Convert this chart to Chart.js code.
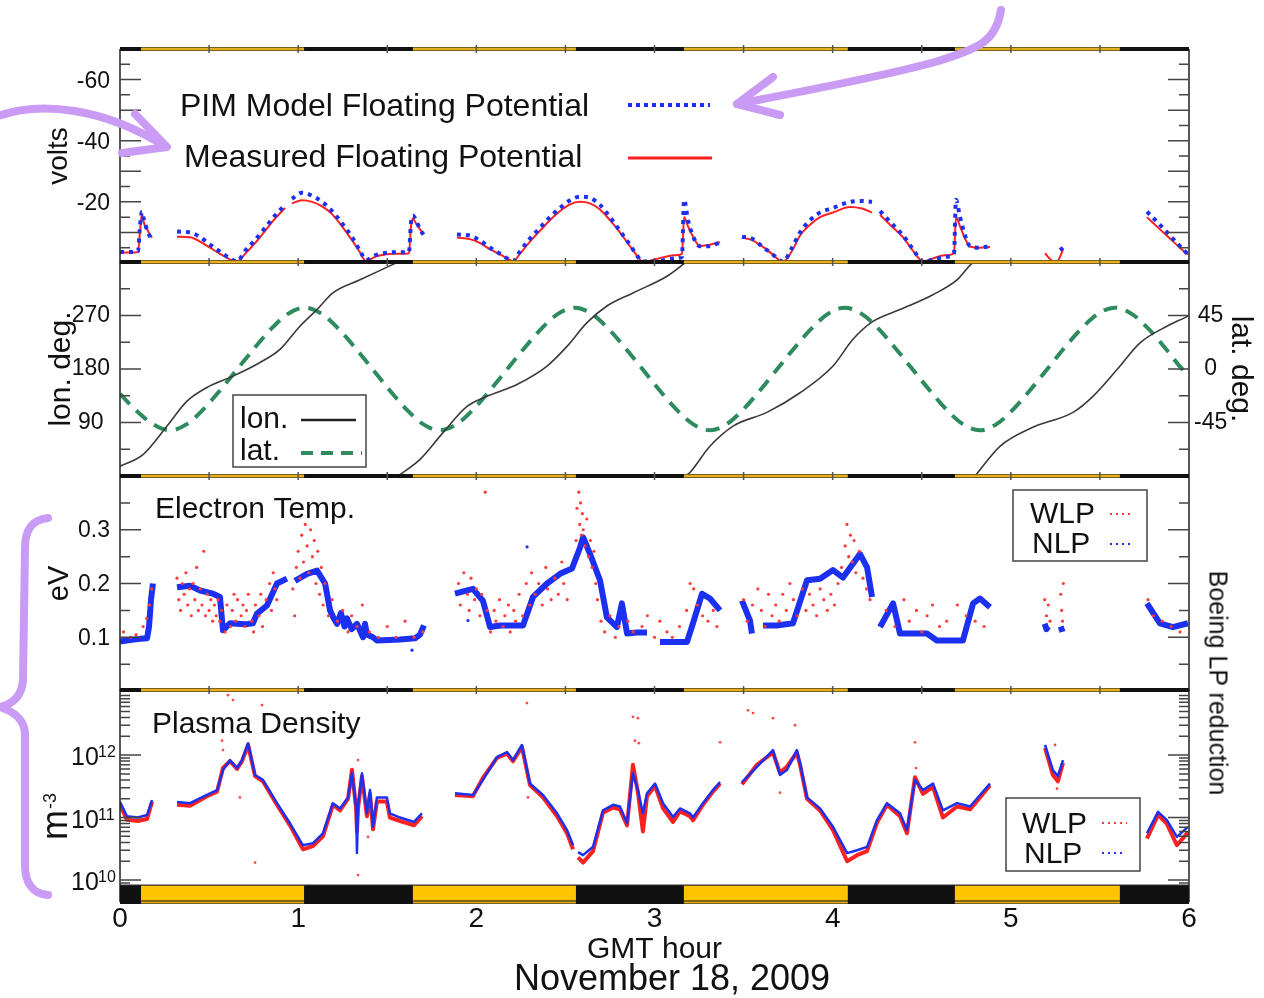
<!DOCTYPE html>
<html>
<head>
<meta charset="utf-8">
<title>Floating potential, orbit and Langmuir probe data</title>
<script src="https://cdn.jsdelivr.net/npm/chart.js@4.4.1/dist/chart.umd.min.js"></script>
<style>
  html, body { margin: 0; padding: 0; background: #fff; }
  #page { position: relative; width: 1264px; height: 998px; overflow: hidden;
          font-family: "Liberation Sans", Arial, Helvetica, sans-serif; color: #111; }
  #page canvas { position: absolute; left: 0; top: 0; }
  .note { position: absolute; white-space: nowrap; line-height: 1; }
  #lpNote { left: 1218px; top: 683px; font-size: 25px; transform: translate(-50%, -50%) rotate(90deg); }
  #dateNote { left: 672px; top: 978px; font-size: 36px; transform: translate(-50%, -50%); }
  #marks { position: absolute; left: 0; top: 0; }
</style>
</head>
<body>
<div id="page">
  <canvas id="potChart" width="1264" height="998"></canvas>
  <canvas id="orbitChart" width="1264" height="998"></canvas>
  <canvas id="tempChart" width="1264" height="998"></canvas>
  <canvas id="densChart" width="1264" height="998"></canvas>
  <div class="note" id="lpNote">Boeing LP reduction</div>
  <div class="note" id="dateNote">November 18, 2009</div>
  <svg id="marks" width="1264" height="998" viewBox="0 0 1264 998">
    <g fill="none" stroke="#c99bf5" stroke-width="8" stroke-linecap="round" stroke-linejoin="round">
      <path d="M1001 10 C996 40 982 48 935 62 C885 76 800 92 737 104"/>
      <path d="M773 77 L737 104 L780 115"/>
      <path d="M-5 117 C40 100 105 108 166 147"/>
      <path d="M135 114 L167 147 L122 153"/>
      <path d="M48 518 C30 520 25 532 25 548 L23 680 C22 697 12 704 0 707 C12 711 25 718 25 735 L25 865 C25 882 32 894 48 895"/>
    </g>
  </svg>
</div>

<script>
// ---- shared time axis (GMT hour) ----
// sunlit parts of each orbit; the rest of the band is eclipse
const sunlit = [[0.118, 1.033], [1.644, 2.559], [3.165, 4.085], [4.686, 5.612]];

// ---- floating potential (volts) ----
const fpHour = [
  0, 0.056, 0.101, 0.112, 0.123, 0.135, 0.157, 0.180,
  0.25,
  0.320, 0.393, 0.449, 0.505, 0.561, 0.617, 0.657, 0.702, 0.758, 0.814, 0.870, 0.926,
  0.945,
  0.965, 1.021, 1.078, 1.134, 1.190, 1.246, 1.302, 1.347, 1.381, 1.431, 1.487, 1.543, 1.600, 1.622, 1.633, 1.644, 1.661, 1.684, 1.706,
  1.80,
  1.891, 1.964, 2.021, 2.077, 2.133, 2.189, 2.206, 2.245, 2.301, 2.357, 2.413, 2.470, 2.526, 2.582, 2.638, 2.694, 2.750, 2.806, 2.862, 2.907, 2.935, 3.003, 3.059, 3.115, 3.154, 3.166, 3.188, 3.222, 3.255, 3.311, 3.368,
  3.43,
  3.491, 3.547, 3.603, 3.659, 3.721, 3.772, 3.817, 3.873, 3.929, 4.002, 4.097, 4.165, 4.221,
  4.24,
  4.266, 4.322, 4.395, 4.451, 4.507, 4.563, 4.630, 4.681, 4.692, 4.715, 4.743, 4.771, 4.827, 4.883,
  5.0,
  5.192, 5.225, 5.253, 5.276, 5.293,
  5.5,
  5.764, 5.837, 5.893, 5.949, 5.994
];
const fpMeasured = [
  -3.4, -3.4, -3.6, -10, -16, -13, -10.5, -8.3,
  null,
  -8.6, -8.4, -7, -5, -3, -1.2, -0.4, -3, -6.5, -10.5, -14.5, -18,
  null,
  -19.5, -20.5, -20, -18.5, -16, -12, -7.5, -3.5, -0.6, -2, -2.8, -3, -3, -3.2, -12, -14.5, -13, -11, -9.5,
  null,
  -8.3, -7.8, -6.5, -4.5, -2.8, -1, -0.5, -3, -7, -10.5, -14, -17, -19.2, -20, -19.5, -17.5, -14, -10, -5.5, -2, -0.3, -1.2, -2, -2.5, -3, -15, -12, -8, -5.5, -6, -6.8,
  null,
  -8.3, -7.5, -5.5, -3, -0.4, -4, -9, -12.5, -15, -16.5, -18.3, -17.8, -16.5,
  null,
  -15.8, -12.5, -8.4, -4, -0.5, -1.5, -2.5, -3.2, -15, -12, -8, -5.4, -5, -5.2,
  null,
  -3.2, -1, -0.2, -2, -4.5,
  null,
  -15, -11, -8, -5, -2.8
];
const fpModel = [
  -3.6, -3.6, -3.8, -12, -16.8, -14, -10, -7.5,
  null,
  -10.3, -10, -8.5, -6, -3.7, -1.5, -0.6, -4, -7.5, -11.5, -15.5, -19,
  null,
  -21, -23, -22, -20, -17, -13, -8.5, -4, -1, -2.5, -3.3, -3.5, -3.5, -3.6, -13, -15.5, -14, -11, -9,
  null,
  -9.3, -9, -7.3, -5, -3, -1, -0.6, -3.8, -8, -11.5, -15, -18, -20.5, -21.7, -21.3, -19, -15, -10.5, -6, -2, -0.5, -0.5, -1, -1.5, -2, -20.7, -14, -8, -5.5, -5.5, -6.8,
  null,
  -8.6, -8, -5.5, -3, -0.5, -5, -10, -14, -16.5, -18, -20, -20.3, -20,
  null,
  -17, -13.5, -9, -4.5, -0.5, -1, -2, -3, -20.7, -15, -9, -5.5, -5, -5.5,
  null,
  null, null, null, -4.2, -5,
  null,
  -16.8, -12.5, -9, -5.5, -2.8
];

// ---- ground track ----
const lonHour = [
  0, 0.129, 0.264, 0.376, 0.488, 0.634, 0.786, 0.898, 1.010, 1.106, 1.195, 1.347, 1.532, 1.560,
  1.560, 1.560, 1.684, 1.813, 1.948, 2.060, 2.228, 2.397, 2.509, 2.621, 2.733, 2.879, 3.070, 3.160, 3.175,
  3.175, 3.175, 3.199, 3.311, 3.441, 3.631, 3.817, 4.002, 4.114, 4.226, 4.378, 4.563, 4.698, 4.788, 4.799,
  4.799, 4.799, 4.939, 5.124, 5.349, 5.461, 5.596, 5.725, 5.876, 5.994, 6.0
];
const lonDeg = [
  16.5, 36, 84, 126, 149, 168, 191, 213, 252, 280, 308, 330, 356, 360,
  null, 0, 28, 73, 117, 134, 154, 185, 218, 258, 286, 308, 336, 356, 360,
  null, 0, 6, 50, 84, 107, 140, 185, 230, 260, 280, 305, 330, 359, 360,
  null, 0, 50, 82, 107, 134, 179, 224, 252, 269, 270
];
const latHour = [
  0, 0.091, 0.185, 0.280, 0.375, 0.469, 0.564, 0.659, 0.754, 0.848, 0.943, 1.038, 1.132, 1.227, 1.322, 1.417,
  1.511, 1.606, 1.701, 1.795, 1.890, 1.985, 2.079, 2.174, 2.269, 2.364, 2.458, 2.553, 2.648, 2.742, 2.837, 2.932,
  3.026, 3.121, 3.216, 3.311, 3.405, 3.500, 3.595, 3.689, 3.784, 3.879, 3.973, 4.068, 4.163, 4.258, 4.352, 4.447,
  4.542, 4.636, 4.731, 4.826, 4.920, 5.015, 5.110, 5.205, 5.299, 5.394, 5.489, 5.583, 5.678, 5.773, 5.867, 5.962, 6.0
];
const latDeg = [
  -21, -35, -46.4, -51.6, -46.4, -33.7, -17.5, 0, 17.5, 33.7, 46.4, 51.6, 46.4, 33.7, 17.5, 0,
  -17.5, -33.7, -46.4, -51.6, -46.4, -33.7, -17.5, 0, 17.5, 33.7, 46.4, 51.6, 46.4, 33.7, 17.5, 0,
  -17.5, -33.7, -46.4, -51.6, -46.4, -33.7, -17.5, 0, 17.5, 33.7, 46.4, 51.6, 46.4, 33.7, 17.5, 0,
  -17.5, -33.7, -46.4, -51.6, -46.4, -33.7, -17.5, 0, 17.5, 33.7, 46.4, 51.6, 46.4, 33.7, 17.5, 0, -5
];

// ---- electron temperature (eV) ----
const tempHour = [
  0, 0.056, 0.112, 0.152, 0.163, 0.174, 0.185,
  0.25,
  0.320, 0.393, 0.449, 0.522, 0.561, 0.578, 0.617, 0.702, 0.746, 0.769, 0.825, 0.881, 0.937,
  0.96,
  0.982, 1.050, 1.106, 1.151, 1.179, 1.200, 1.218, 1.240, 1.260, 1.274, 1.300, 1.330, 1.364, 1.375, 1.386, 1.420, 1.442, 1.572, 1.656, 1.684, 1.706,
  1.80,
  1.880, 1.981, 2.037, 2.077, 2.133, 2.262, 2.318, 2.397, 2.470, 2.537, 2.582, 2.599, 2.638, 2.694, 2.733, 2.789, 2.817, 2.846, 2.902, 2.958,
  2.99,
  3.031, 3.182, 3.216, 3.267, 3.311, 3.368,
  3.43,
  3.491, 3.536, 3.547,
  3.58,
  3.609, 3.687, 3.777, 3.856, 3.929, 4.002, 4.058, 4.153, 4.193, 4.221,
  4.24,
  4.266, 4.339, 4.378, 4.451, 4.529, 4.585, 4.731, 4.788, 4.827, 4.883,
  5.0,
  5.190, 5.200, 5.210,
  5.25,
  5.280, 5.290,
  5.5,
  5.764, 5.837, 5.910, 5.994
];
const nlpTemp = [
  0.092, 0.095, 0.097, 0.098, 0.12, 0.17, 0.2,
  null,
  0.193, 0.196, 0.187, 0.181, 0.175, 0.113, 0.126, 0.124, 0.126, 0.144, 0.159, 0.2, 0.209,
  null,
  0.205, 0.218, 0.224, 0.2, 0.15, 0.135, 0.125, 0.145, 0.12, 0.135, 0.115, 0.125, 0.1, 0.125, 0.105, 0.1, 0.094, 0.096, 0.098, 0.105, 0.122,
  null,
  0.181, 0.19, 0.168, 0.119, 0.122, 0.122, 0.175, 0.2, 0.218, 0.228, 0.267, 0.286, 0.255, 0.206, 0.137, 0.119, 0.163, 0.107, 0.109, 0.109,
  null,
  0.091, 0.091, 0.126, 0.181, 0.172, 0.15,
  null,
  0.168, 0.131, 0.107,
  null,
  0.122, 0.122, 0.126, 0.206, 0.209, 0.225, 0.211, 0.255, 0.23, 0.175,
  null,
  0.119, 0.163, 0.107, 0.107, 0.107, 0.094, 0.094, 0.163, 0.172, 0.156,
  null,
  0.125, 0.115, 0.12,
  null,
  0.12, 0.11,
  null,
  0.163, 0.126, 0.119, 0.126
];
const nlpTempStray = [[1.639, 0.076], [1.953, 0.131], [2.285, 0.268]];
const wlpTempPoints = [
  [0.02, 0.11], [0.06, 0.1], [0.09, 0.105], [0.13, 0.12], [0.15, 0.135], [0.165, 0.16], [0.178, 0.19],
  [0.32, 0.21], [0.33, 0.17], [0.34, 0.15], [0.35, 0.2], [0.36, 0.18], [0.37, 0.22], [0.38, 0.16], [0.39, 0.19],
  [0.40, 0.14], [0.41, 0.2], [0.42, 0.17], [0.43, 0.23], [0.44, 0.15], [0.45, 0.19], [0.46, 0.16], [0.47, 0.26],
  [0.48, 0.14], [0.49, 0.18], [0.50, 0.15], [0.51, 0.17], [0.52, 0.13], [0.53, 0.16], [0.54, 0.14], [0.55, 0.17],
  [0.56, 0.13], [0.57, 0.15],
  [0.59, 0.11], [0.60, 0.16], [0.62, 0.12], [0.63, 0.15], [0.64, 0.18], [0.65, 0.13], [0.66, 0.17], [0.68, 0.14],
  [0.69, 0.16], [0.70, 0.12], [0.71, 0.15], [0.72, 0.18], [0.74, 0.13], [0.75, 0.11], [0.76, 0.16], [0.78, 0.14],
  [0.79, 0.18], [0.80, 0.12], [0.82, 0.17], [0.84, 0.2], [0.85, 0.15], [0.86, 0.22], [0.87, 0.19], [0.88, 0.17],
  [0.97, 0.19], [0.98, 0.14], [0.99, 0.23], [1.00, 0.26], [1.01, 0.21], [1.02, 0.29], [1.03, 0.24], [1.04, 0.31],
  [1.05, 0.27], [1.06, 0.22], [1.07, 0.3], [1.08, 0.25], [1.09, 0.28], [1.10, 0.2], [1.11, 0.26], [1.12, 0.18],
  [1.13, 0.23], [1.14, 0.16], [1.15, 0.2], [1.17, 0.14], [1.19, 0.17],
  [1.22, 0.13], [1.25, 0.15], [1.28, 0.11], [1.30, 0.14], [1.33, 0.12], [1.36, 0.16], [1.40, 0.11], [1.45, 0.1],
  [1.50, 0.12], [1.55, 0.1], [1.60, 0.13], [1.65, 0.1], [1.70, 0.11],
  [1.90, 0.2], [1.91, 0.16], [1.93, 0.22], [1.95, 0.18], [1.96, 0.15], [1.97, 0.21], [1.99, 0.17], [2.00, 0.19],
  [2.02, 0.14], [2.03, 0.18], [2.05, 0.37], [2.06, 0.15], [2.08, 0.11], [2.10, 0.15], [2.11, 0.13], [2.13, 0.17],
  [2.15, 0.12], [2.16, 0.14], [2.18, 0.16], [2.19, 0.11], [2.21, 0.15], [2.22, 0.13], [2.24, 0.18], [2.26, 0.14],
  [2.28, 0.2], [2.30, 0.16], [2.31, 0.22], [2.33, 0.18], [2.35, 0.2], [2.37, 0.16], [2.39, 0.23], [2.40, 0.19],
  [2.42, 0.17], [2.44, 0.21], [2.46, 0.18], [2.48, 0.24], [2.49, 0.2], [2.51, 0.17],
  [2.56, 0.28], [2.565, 0.34], [2.575, 0.37], [2.58, 0.31], [2.585, 0.35], [2.59, 0.29], [2.595, 0.33], [2.60, 0.3],
  [2.61, 0.27], [2.62, 0.32], [2.63, 0.25], [2.64, 0.28], [2.65, 0.23], [2.66, 0.26], [2.67, 0.2], [2.68, 0.17],
  [2.70, 0.13], [2.72, 0.11], [2.75, 0.14], [2.78, 0.1], [2.80, 0.12], [2.85, 0.13], [2.88, 0.11],
  [2.93, 0.12], [2.96, 0.14], [3.00, 0.1], [3.03, 0.13], [3.07, 0.11], [3.10, 0.1], [3.14, 0.12], [3.18, 0.15],
  [3.20, 0.2], [3.22, 0.19], [3.24, 0.16], [3.27, 0.14], [3.30, 0.13], [3.33, 0.15], [3.35, 0.12],
  [3.50, 0.17], [3.52, 0.13], [3.55, 0.16], [3.58, 0.19], [3.60, 0.15], [3.62, 0.12], [3.64, 0.18], [3.66, 0.14],
  [3.68, 0.16], [3.70, 0.13], [3.72, 0.18], [3.74, 0.15], [3.76, 0.2], [3.78, 0.17], [3.80, 0.14],
  [3.83, 0.19], [3.85, 0.15], [3.87, 0.18], [3.89, 0.16], [3.91, 0.14], [3.93, 0.19], [3.95, 0.17], [3.97, 0.15],
  [3.99, 0.18], [4.01, 0.16], [4.03, 0.2], [4.05, 0.23], [4.07, 0.27], [4.08, 0.31], [4.09, 0.25], [4.10, 0.29],
  [4.11, 0.24], [4.12, 0.28], [4.13, 0.22], [4.15, 0.26], [4.17, 0.21], [4.19, 0.19], [4.21, 0.17],
  [4.30, 0.15], [4.35, 0.12], [4.40, 0.17], [4.43, 0.13], [4.47, 0.15], [4.50, 0.11], [4.53, 0.14], [4.56, 0.16],
  [4.60, 0.12], [4.64, 0.13], [4.70, 0.16], [4.75, 0.14], [4.80, 0.13], [4.85, 0.12],
  [5.19, 0.17], [5.20, 0.14], [5.21, 0.16], [5.22, 0.13], [5.28, 0.18], [5.285, 0.15], [5.29, 0.13], [5.295, 0.2],
  [5.77, 0.17], [5.80, 0.14], [5.85, 0.13], [5.90, 0.12], [5.95, 0.11]
];

// ---- plasma density (m^-3) ----
const densHour = [
  0, 0.039, 0.100, 0.152, 0.180,
  0.25,
  0.320, 0.393, 0.488, 0.545, 0.578, 0.617, 0.657, 0.685, 0.719, 0.758, 0.802, 0.881, 0.954, 1.027, 1.083, 1.139, 1.195, 1.235, 1.280, 1.302, 1.325, 1.330, 1.336, 1.358, 1.386, 1.403, 1.420, 1.442, 1.498, 1.515, 1.572, 1.650, 1.695,
  1.80,
  1.880, 1.981, 2.037, 2.116, 2.172, 2.206, 2.256, 2.301, 2.374, 2.453, 2.509, 2.543,
  2.557,
  2.571, 2.599, 2.655, 2.711, 2.767, 2.806, 2.846, 2.879, 2.907, 2.935, 2.958, 3.003, 3.048, 3.104, 3.143, 3.199, 3.216, 3.272, 3.328, 3.368,
  3.43,
  3.491, 3.575, 3.665, 3.704, 3.743, 3.799, 3.817, 3.856, 3.929, 4.002, 4.081, 4.137, 4.193, 4.249, 4.305, 4.378, 4.417, 4.462, 4.507, 4.563, 4.619, 4.698, 4.771, 4.827, 4.883,
  5.0,
  5.192, 5.236, 5.264, 5.293,
  5.5,
  5.764, 5.826, 5.876, 5.932, 5.994
];
const nlpDens = [
  1.78e11, 1.05e11, 1.0e11, 1.1e11, 1.9e11,
  null,
  1.78e11, 1.7e11, 2.3e11, 2.75e11, 5.75e11, 8.3e11, 6.2e11, 8.3e11, 1.55e12, 4.8e11, 4.0e11, 1.7e11, 8.1e10, 3.6e10, 3.9e10, 5.6e10, 1.7e11, 1.4e11, 2.1e11, 5.1e11, 1.5e11, 2.7e10, 1.5e11, 5.1e11, 1.17e11, 2.75e11, 7.1e10, 2.1e11, 2.1e11, 1.17e11, 1.0e11, 8.5e10, 1.17e11,
  null,
  2.45e11, 2.3e11, 4.0e11, 9.3e11, 1.12e12, 8.3e11, 1.45e12, 3.5e11, 2.3e11, 1.17e11, 6.3e10, 3.6e10,
  null,
  2.8e10, 2.5e10, 3.4e10, 1.3e11, 1.6e11, 1.5e11, 8.1e10, 5.1e11, 2.75e11, 1.17e11, 2.45e11, 3.5e11, 1.7e11, 1.02e11, 1.4e11, 1.17e11, 1.0e11, 1.7e11, 2.75e11, 3.7e11,
  null,
  3.7e11, 6.5e11, 1.2e12, 4.8e11, 5.75e11, 1.2e12, 7.4e11, 2.1e11, 1.4e11, 7.1e10, 2.7e10, 3.0e10, 3.4e10, 9.1e10, 1.7e11, 1.17e11, 6.3e10, 4.0e11, 2.75e11, 3.5e11, 1.3e11, 1.7e11, 1.5e11, 2.3e11, 3.5e11,
  null,
  1.45e12, 5.75e11, 4.6e11, 8.3e11,
  null,
  5.6e10, 1.23e11, 9.1e10, 4.9e10, 7.1e10
];
const wlpDens = [
  1.6e11, 0.92e11, 0.88e11, 0.95e11, 1.8e11,
  null,
  1.6e11, 1.55e11, 2.2e11, 2.6e11, 6.2e11, 8.0e11, 6.0e11, 8.0e11, 1.45e12, 4.6e11, 3.8e11, 1.6e11, 7.5e10, 3.1e10, 3.5e10, 5.0e10, 1.6e11, 1.3e11, 2.0e11, 5.8e11, 1.4e11, 6.0e10, 1.4e11, 4.6e11, 1.05e11, 2.4e11, 6.5e10, 1.8e11, 1.8e11, 1.0e11, 0.88e11, 0.75e11, 1.05e11,
  null,
  2.3e11, 2.2e11, 4.3e11, 9.0e11, 1.05e12, 8.0e11, 1.35e12, 3.3e11, 2.1e11, 1.05e11, 5.6e10, 3.1e10,
  null,
  2.3e10, 1.9e10, 2.9e10, 1.2e11, 1.45e11, 1.35e11, 7.5e10, 7.0e11, 2.5e11, 6.0e10, 2.2e11, 3.2e11, 1.4e11, 0.85e11, 1.25e11, 1.05e11, 0.9e11, 1.6e11, 2.6e11, 3.5e11,
  null,
  3.4e11, 7.0e11, 1.1e12, 5.2e11, 6.5e11, 1.1e12, 7.0e11, 2.0e11, 1.3e11, 6.3e10, 2.0e10, 2.5e10, 2.9e10, 8.3e10, 1.6e11, 1.05e11, 5.6e10, 4.4e11, 2.4e11, 3.1e11, 1.0e11, 1.5e11, 1.35e11, 2.1e11, 3.3e11,
  null,
  1.3e12, 4.8e11, 3.8e11, 7.5e11,
  null,
  4.6e10, 1.1e11, 7.9e10, 3.6e10, 5.8e10
];
const wlpDensStray = [
  [0.573, 1.7e12], [0.578, 1.2e12], [0.606, 9.1e12], [0.634, 7.6e12], [0.673, 2.1e11], [0.758, 1.9e10],
  [0.797, 6.3e12], [1.336, 8.3e11], [1.336, 1.2e10], [1.392, 4.9e10], [2.284, 6.8e12], [2.290, 2.1e11],
  [2.879, 4.1e12], [2.890, 1.7e12], [2.907, 3.9e12], [2.912, 1.55e12], [3.368, 1.6e12], [3.525, 5.2e12],
  [3.553, 4.7e12], [3.665, 3.9e12], [3.704, 2.5e11], [3.789, 3.0e12], [4.462, 1.6e12], [4.468, 6.2e11],
  [5.248, 1.45e12], [5.259, 2.9e11]
];

// ---- drawing ----
const FONT = '"Liberation Sans", Arial, Helvetica, sans-serif';
const INK = '#111';
const BLUE = '#1b30f0';
const RED = '#ff2020';
Chart.defaults.font.family = FONT;
Chart.defaults.color = INK;

const pairs = (xs, ys) => xs.map((x, i) => ({ x: x, y: ys[i] }));
const points = list => list.map(p => ({ x: p[0], y: p[1] }));

function drawText(ctx, str, x, y, size) {
  ctx.font = size + 'px ' + FONT;
  ctx.fillStyle = INK;
  ctx.textAlign = 'left';
  ctx.textBaseline = 'alphabetic';
  ctx.fillText(str, x, y);
}

// yellow = sunlit, black = eclipse
function drawBand(ctx, xs, area, yTop, h, yellow) {
  ctx.fillStyle = '#111';
  ctx.fillRect(area.left, yTop, area.right - area.left, h);
  ctx.fillStyle = yellow;
  sunlit.forEach(([s, e]) => {
    const x1 = xs.getPixelForValue(s), x2 = xs.getPixelForValue(e);
    ctx.fillRect(x1, yTop + 0.5, x2 - x1, h - 1);
  });
}

function bandTicks(ctx, xs, y) {
  ctx.strokeStyle = '#555';
  ctx.lineWidth = 1.5;
  ctx.beginPath();
  for (let h = 0.5; h < 6; h += 0.5) {
    const x = xs.getPixelForValue(h);
    ctx.moveTo(x, y - 4); ctx.lineTo(x, y + 4);
  }
  ctx.stroke();
}

function makeDecor(spec) {
  return {
    id: 'decor',
    afterDatasetsDraw(chart) {
      const { ctx, chartArea: a, scales } = chart;
      const xs = scales.x;
      ctx.save();

      // frame sides
      ctx.strokeStyle = '#222';
      ctx.lineWidth = 1.5;
      ctx.beginPath();
      ctx.moveTo(a.left, a.top); ctx.lineTo(a.left, a.bottom);
      ctx.moveTo(a.right, a.top); ctx.lineTo(a.right, a.bottom);
      ctx.stroke();

      // inward ticks on both sides
      const ys = scales[spec.tickScale];
      const values = spec.tickValues ? spec.tickValues(ys) : ys.ticks.map(t => t.value);
      ctx.strokeStyle = '#444';
      ctx.beginPath();
      values.forEach(v => {
        const y = ys.getPixelForValue(v);
        if (y < a.top + 3 || y > a.bottom - 3) return;
        const len = spec.isMajor(v) ? 21 : 10;
        ctx.moveTo(a.left, y); ctx.lineTo(a.left + len, y);
        ctx.moveTo(a.right, y); ctx.lineTo(a.right - len, y);
      });
      ctx.stroke();

      // day/night band along the top edge of the panel
      drawBand(ctx, xs, a, a.top - 2, 4, '#e4b022');
      bandTicks(ctx, xs, a.top);

      if (spec.bottomBand) {
        drawBand(ctx, xs, a, a.bottom - 17, 16, '#ffc400');
        ctx.strokeStyle = '#333';
        ctx.lineWidth = 1;
        ctx.beginPath();
        ctx.moveTo(a.left, a.bottom - 17); ctx.lineTo(a.right, a.bottom - 17);
        ctx.stroke();
        drawBand(ctx, xs, a, a.bottom - 1, 3, '#e4b022');
      }

      // decade labels written as 10 with a raised exponent
      if (spec.decades) {
        spec.decades.forEach(e => {
          const y = ys.getPixelForValue(Math.pow(10, e));
          drawText(ctx, '10', a.left - 49, y + 10, 25);
          drawText(ctx, String(e), a.left - 22, y + 2, 16);
        });
      }
      if (spec.unitTitle) {
        const u = spec.unitTitle;
        ctx.save();
        ctx.translate(u.x, u.y);
        ctx.rotate(-Math.PI / 2);
        drawText(ctx, u.base, 0, 0, u.size);
        const w = ctx.measureText(u.base).width;
        drawText(ctx, u.sup, w + 1, -u.raise, u.supSize);
        ctx.restore();
      }

      (spec.labels || []).forEach(l => drawText(ctx, l.text, l.x, l.y, l.size));

      if (spec.legend) {
        const lg = spec.legend;
        if (lg.box) {
          ctx.fillStyle = '#fff';
          ctx.fillRect(lg.box[0], lg.box[1], lg.box[2], lg.box[3]);
          ctx.strokeStyle = '#444';
          ctx.lineWidth = 1.5;
          ctx.strokeRect(lg.box[0], lg.box[1], lg.box[2], lg.box[3]);
        }
        lg.items.forEach(it => {
          drawText(ctx, it.text, it.tx, it.ty, it.size);
          ctx.strokeStyle = it.color;
          ctx.lineWidth = it.width;
          ctx.lineCap = 'butt';
          ctx.setLineDash(it.dash || []);
          ctx.beginPath();
          ctx.moveTo(it.x1, it.y); ctx.lineTo(it.x2, it.y);
          ctx.stroke();
          ctx.setLineDash([]);
        });
      }
      ctx.restore();
    }
  };
}

const hiddenX = { type: 'linear', min: 0, max: 6, display: false };
const fixWidth = w => scale => { scale.width = w; };

function leftAxis(extra) {
  return Object.assign({
    position: 'left',
    afterFit: fixWidth(100),
    grid: { display: false, drawTicks: false },
    border: { display: false }
  }, extra);
}

function baseOptions(top, bottom, right) {
  return {
    responsive: false,
    animation: false,
    events: [],
    devicePixelRatio: 1,
    layout: { padding: { left: 20, right: right, top: top, bottom: 998 - bottom } },
    plugins: { legend: { display: false }, tooltip: { enabled: false } },
    elements: { point: { radius: 0 } }
  };
}

// floating potential
const potOpts = baseOptions(49, 263, 75);
potOpts.scales = {
  x: hiddenX,
  y: leftAxis({
    type: 'linear', min: -70, max: 0, reverse: true,
    ticks: {
      stepSize: 5, autoSkip: false, padding: 10, crossAlign: 'center', color: INK, labelOffset: 2,
      font: { size: 23 },
      callback: v => (v === -60 || v === -40 || v === -20) ? String(v) : ''
    },
    title: { display: true, text: 'volts', color: INK, font: { size: 28 }, padding: { top: 22, bottom: 0 } }
  })
};
new Chart(document.getElementById('potChart'), {
  type: 'line',
  data: {
    datasets: [
      { label: 'PIM Model Floating Potential', data: pairs(fpHour, fpModel), borderColor: BLUE,
        borderWidth: 4, borderDash: [4, 5], borderCapStyle: 'butt', cubicInterpolationMode: 'monotone' },
      { label: 'Measured Floating Potential', data: pairs(fpHour, fpMeasured), borderColor: RED,
        borderWidth: 2, cubicInterpolationMode: 'monotone' }
    ]
  },
  options: potOpts,
  plugins: [makeDecor({
    tickScale: 'y',
    isMajor: v => v % 10 === 0,
    legend: {
      items: [
        { text: 'PIM Model Floating Potential', tx: 180, ty: 116, size: 32, x1: 628, x2: 710, y: 105, color: BLUE, width: 4, dash: [4, 4] },
        { text: 'Measured Floating Potential', tx: 184, ty: 167, size: 32, x1: 628, x2: 712, y: 158, color: RED, width: 3 }
      ]
    }
  })]
});

// longitude / latitude
const orbitOpts = baseOptions(262, 476, 5);
orbitOpts.scales = {
  x: hiddenX,
  y: leftAxis({
    type: 'linear', min: 0, max: 360,
    ticks: {
      stepSize: 45, autoSkip: false, padding: 10, crossAlign: 'center', color: INK,
      font: { size: 23 },
      callback: v => (v === 90 || v === 180 || v === 270) ? String(v) : ''
    },
    title: { display: true, text: 'lon. deg.', color: INK, font: { size: 30 }, padding: { top: 24, bottom: 0 } }
  }),
  y2: {
    type: 'linear', position: 'right', min: -90, max: 90,
    afterFit: fixWidth(70),
    grid: { display: false, drawTicks: false },
    border: { display: false },
    ticks: {
      stepSize: 22.5, autoSkip: false, padding: 5, crossAlign: 'center', color: INK,
      font: { size: 23 },
      callback: v => (Math.abs(Math.abs(v) - 45) < 1e-6 || Math.abs(v) < 1e-6) ? String(Math.round(v)) : ''
    },
    title: { display: true, text: 'lat. deg.', color: INK, font: { size: 30 }, padding: { top: 1, bottom: 0 } }
  }
};
new Chart(document.getElementById('orbitChart'), {
  type: 'line',
  data: {
    datasets: [
      { label: 'lon.', data: pairs(lonHour, lonDeg), yAxisID: 'y', borderColor: '#3a3a3a',
        borderWidth: 1.6, cubicInterpolationMode: 'monotone' },
      { label: 'lat.', data: pairs(latHour, latDeg), yAxisID: 'y2', borderColor: '#2e8b5e',
        borderWidth: 4, borderDash: [14, 9], cubicInterpolationMode: 'monotone' }
    ]
  },
  options: orbitOpts,
  plugins: [makeDecor({
    tickScale: 'y',
    isMajor: v => v % 90 === 0,
    legend: {
      box: [233, 395, 133, 72],
      items: [
        { text: 'lon.', tx: 240, ty: 428, size: 30, x1: 301, x2: 356, y: 420, color: '#222', width: 2.5 },
        { text: 'lat.', tx: 240, ty: 460, size: 30, x1: 301, x2: 362, y: 453, color: '#2e8b5e', width: 4, dash: [12, 8] }
      ]
    }
  })]
});

// electron temperature
const tempOpts = baseOptions(476, 691, 75);
tempOpts.scales = {
  x: hiddenX,
  y: leftAxis({
    type: 'linear', min: 0, max: 0.4,
    ticks: {
      stepSize: 0.05, autoSkip: false, padding: 10, crossAlign: 'center', color: INK, labelOffset: 1,
      font: { size: 23 },
      callback: v => { const r = Math.round(v * 100); return (r === 10 || r === 20 || r === 30) ? v.toFixed(1) : ''; }
    },
    title: { display: true, text: 'eV', color: INK, font: { size: 29 }, padding: { top: 23, bottom: 0 } }
  })
};
new Chart(document.getElementById('tempChart'), {
  type: 'line',
  data: {
    datasets: [
      { label: 'WLP', data: points(wlpTempPoints), showLine: false, pointRadius: 1.6,
        pointBackgroundColor: '#ff3b3b', pointBorderWidth: 0 },
      { label: 'NLP', data: pairs(tempHour, nlpTemp), borderColor: BLUE, borderWidth: 6, borderJoinStyle: 'round' },
      { label: 'NLP stray', data: points(nlpTempStray), showLine: false, pointRadius: 1.6,
        pointBackgroundColor: BLUE, pointBorderWidth: 0 }
    ]
  },
  options: tempOpts,
  plugins: [makeDecor({
    tickScale: 'y',
    isMajor: v => Math.round(v * 100) % 10 === 0,
    labels: [{ text: 'Electron Temp.', x: 155, y: 518, size: 30 }],
    legend: {
      box: [1013, 490, 134, 71],
      items: [
        { text: 'WLP', tx: 1030, ty: 523, size: 30, x1: 1110, x2: 1134, y: 514, color: '#ff3b3b', width: 2, dash: [2, 4] },
        { text: 'NLP', tx: 1032, ty: 553, size: 30, x1: 1110, x2: 1134, y: 544, color: BLUE, width: 2, dash: [2, 4] }
      ]
    }
  })]
});

// plasma density
const densOpts = baseOptions(690, 902, 75);
densOpts.layout.padding.bottom = 30;
densOpts.scales = {
  x: {
    type: 'linear', min: 0, max: 6,
    afterFit: scale => { scale.height = 66; },
    grid: { display: false, drawTicks: false },
    border: { display: false },
    ticks: { stepSize: 1, autoSkip: false, maxRotation: 0, padding: 0, color: INK, font: { size: 28 } },
    title: { display: true, text: 'GMT hour', color: INK, font: { size: 30 }, padding: { top: 0, bottom: 0 } }
  },
  y: leftAxis({
    type: 'logarithmic', min: 4.45e9, max: 1.1e13,
    ticks: { autoSkip: false, callback: () => '' }
  })
};
new Chart(document.getElementById('densChart'), {
  type: 'line',
  data: {
    datasets: [
      { label: 'NLP', data: pairs(densHour, nlpDens), borderColor: BLUE, borderWidth: 2.5, borderJoinStyle: 'round' },
      { label: 'WLP', data: pairs(densHour, wlpDens), borderColor: RED, borderWidth: 4, borderJoinStyle: 'round' },
      { label: 'WLP stray', data: points(wlpDensStray), showLine: false, pointRadius: 1.4,
        pointBackgroundColor: '#ff4a4a', pointBorderWidth: 0 }
    ]
  },
  options: densOpts,
  plugins: [makeDecor({
    tickScale: 'y',
    tickValues: s => {
      const out = [];
      for (let e = Math.floor(Math.log10(s.min)); e <= Math.ceil(Math.log10(s.max)); e++) {
        for (let k = 1; k < 10; k++) out.push(k * Math.pow(10, e));
      }
      return out;
    },
    isMajor: v => { const l = Math.log10(v); return Math.abs(l - Math.round(l)) < 1e-9; },
    decades: [10, 11, 12],
    unitTitle: { x: 67, y: 840, base: 'm', sup: '-3', size: 36, supSize: 18, raise: 11 },
    bottomBand: true,
    labels: [{ text: 'Plasma Density', x: 152, y: 733, size: 30 }],
    legend: {
      box: [1006, 798, 134, 73],
      items: [
        { text: 'WLP', tx: 1022, ty: 833, size: 30, x1: 1102, x2: 1127, y: 823, color: '#ff3b3b', width: 2, dash: [2, 4] },
        { text: 'NLP', tx: 1024, ty: 863, size: 30, x1: 1102, x2: 1126, y: 853, color: BLUE, width: 2, dash: [2, 4] }
      ]
    }
  })]
});
</script>
</body>
</html>
